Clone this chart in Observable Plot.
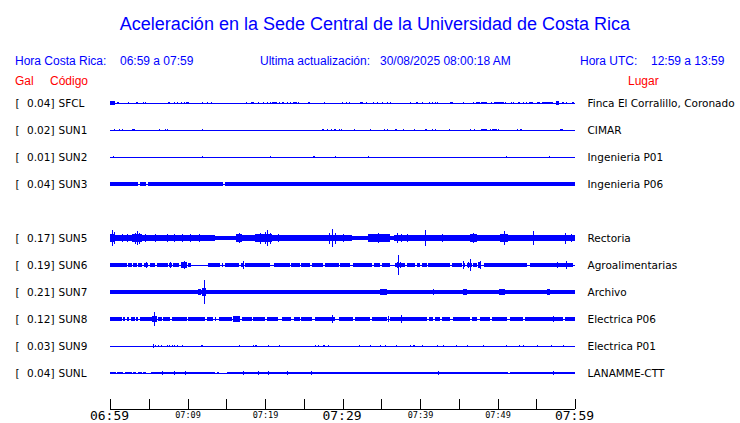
<!DOCTYPE html>
<html><head><meta charset="utf-8">
<script src="https://cdn.jsdelivr.net/npm/d3@7"></script>
<script src="https://cdn.jsdelivr.net/npm/@observablehq/plot@0.6"></script>
<style>
body{margin:0;background:#fff;}
#wrap{position:relative;width:740px;height:423px;overflow:hidden;background:#fff;}
#head{position:absolute;left:0;top:0;width:740px;height:88px;font-family:"Liberation Sans",Arial,sans-serif;}
#head span{position:absolute;white-space:pre;}
.t{font-size:18px;line-height:18px;color:#0000ff;}
.h{font-size:12px;line-height:12px;color:#0000ff;}
.r{font-size:12px;line-height:12px;color:#ff0000;}
#chart{position:absolute;left:0;top:88px;}
</style></head><body>
<div id="wrap">
<div id="head">
<span class="t" style="left:5px;width:740px;text-align:center;top:15px;">Aceleración en la Sede Central de la Universidad de Costa Rica</span>
<span class="h" style="left:15px;top:55px;">Hora Costa Rica:</span>
<span class="h" style="left:120px;top:55px;">06:59 a 07:59</span>
<span class="h" style="left:260px;top:55px;">Ultima actualización:</span>
<span class="h" style="left:380px;top:55px;">30/08/2025 08:00:18 AM</span>
<span class="h" style="left:580px;top:55px;">Hora UTC:</span>
<span class="h" style="left:651px;top:55px;">12:59 a 13:59</span>
<span class="r" style="left:15px;top:75px;">Gal</span>
<span class="r" style="left:50px;top:75px;">Código</span>
<span class="r" style="left:628px;top:75px;">Lugar</span>
</div>
<div id="chart"></div>
</div>
<script>
// Row order (null = unused row, station SUN4 not shown)
const rows = ["SFCL","SUN1","SUN2","SUN3",null,"SUN5","SUN6","SUN7","SUN8","SUN9","SUNL"];
const peaks = [0.04,0.02,0.01,0.04,0.17,0.19,0.21,0.12,0.03,0.04];
const places = ["Finca El Corralillo, Coronado","CIMAR","Ingenieria P01","Ingenieria P06","Rectoria","Agroalimentarias","Archivo","Electrica P06","Electrica P01","LANAMME-CTT"];

// Time axis: minutes after 06:59
const tickMinutes = [0,5,10,15,20,25,30,35,40,45,50,55,60];
const bigTickLabels = [[0,"06:59"],[30,"07:29"],[60,"07:59"]];
const smallTickLabels = [[10,"07:09"],[20,"07:19"],[40,"07:39"],[50,"07:49"]];

// Envelope segments [start min, end min, half amplitude Gal] and spikes [min, amplitude Gal]
const bandsSFCL = [[0,0.65,0.03],[0.86,1.16,0.025],[3.4,3.65,0.025],[7.5,7.8,0.025],[9.8,10.2,0.025],[18.2,18.6,0.025],[20.2,20.4,0.02],[20.9,21.5,0.025],[22.2,22.5,0.025],[23.6,24.1,0.025],[32.3,32.6,0.025],[33.9,34.0,0.025],[39.5,39.8,0.025],[43.9,44.3,0.02],[47.2,47.7,0.025],[47.9,48.6,0.025],[49.5,50.8,0.025],[52.7,52.9,0.025],[54.0,54.6,0.025],[55.1,55.5,0.02],[55.7,57.2,0.025],[57.6,57.9,0.04],[58.3,58.6,0.02]];
const spikesSFCL = [[2.37,0.02],[4.3,0.015],[4.5,0.015],[8.2,0.02],[8.7,0.015],[9.2,0.015],[9.5,0.015],[11.9,0.02],[12.5,0.015],[13.0,0.02],[17.6,0.015],[19.1,0.015],[19.8,0.02],[20.6,0.02],[21.8,0.02],[22.8,0.015],[23.2,0.015],[24.3,0.02],[25.5,0.02],[25.7,0.015],[27.6,0.015],[29.9,0.02],[30.5,0.015],[30.9,0.015],[33.0,0.015],[34.4,0.015],[35.1,0.015],[35.8,0.015],[36.1,0.015],[38.7,0.015],[40.3,0.015],[41.1,0.015],[41.5,0.015],[41.9,0.02],[42.2,0.015],[45.6,0.015],[46.8,0.015],[49.2,0.015],[51.0,0.02],[51.7,0.015],[52.0,0.015],[53.3,0.015],[53.7,0.015],[58.9,0.015],[59.6,0.015],[59.8,0.02]];

const bandsSUN1 = [[2.8,3.2,0.025],[27.3,27.6,0.025],[28.9,29.2,0.025],[36.8,37.0,0.025],[40.6,40.9,0.02],[47.9,48.6,0.025],[49.3,49.9,0.02],[52.9,53.1,0.02],[58.1,58.4,0.025]];
const spikesSUN1 = [[0.56,0.015],[1.2,0.015],[1.6,0.015],[6.3,0.015],[7.1,0.015],[7.4,0.015],[11.9,0.02],[28.0,0.015],[28.5,0.02],[29.5,0.02],[29.8,0.02],[31.5,0.02],[33.5,0.015],[35.3,0.015],[35.8,0.015],[37.8,0.015],[39.2,0.015],[41.6,0.015],[41.9,0.015],[43.8,0.015],[46.5,0.015],[47.0,0.015],[49.0,0.02],[50.0,0.015],[52.5,0.015]];

const bandsSUN2 = [[26.2,26.5,0.012]];
const spikesSUN2 = [[0.43,0.012],[11.9,0.012],[20.6,0.012],[29.0,0.012],[33.3,0.012],[51.1,0.012],[56.7,0.012]];

const bandsSUN3 = [[0,3.65,0.033],[3.9,4.7,0.033],[4.95,14.6,0.033],[14.85,60,0.033]];
const spikesSUN3 = [[0.43,0.045],[1.08,0.045],[7.44,0.045],[8.6,0.045],[9.3,0.045],[12.6,0.045],[16.7,0.045],[19.0,0.045],[19.3,0.045],[20.5,0.045],[21.1,0.045],[28.0,0.045],[28.7,0.045],[29.0,0.045],[33.3,0.045],[34.3,0.045],[34.8,0.045],[37.8,0.045],[49.5,0.045],[51.1,0.045],[52.6,0.045],[52.9,0.045],[56.7,0.045],[57.2,0.045]];

const bandsSUN5 = [[0,0.7,0.08],[0.7,2.8,0.05],[2.8,4.1,0.08],[4.1,13.5,0.05],[13.5,16.3,0.045],[16.3,17.0,0.065],[17.0,18.7,0.05],[18.7,20.9,0.075],[20.9,23.4,0.05],[23.4,27.3,0.048],[27.3,31.2,0.06],[31.2,33.3,0.045],[33.3,36.1,0.065],[36.1,36.6,0.045],[36.6,40.0,0.06],[40.0,40.9,0.05],[40.9,42.2,0.048],[42.2,43.4,0.06],[43.4,46.5,0.048],[46.5,47.3,0.07],[47.3,50.3,0.048],[50.3,51.4,0.07],[51.4,54.4,0.05],[54.4,54.8,0.06],[54.8,58.3,0.048],[58.3,60,0.06]];
const spikesSUN5 = [[0.2,0.14],[0.5,0.11],[1.5,0.07],[2.2,0.07],[3.2,0.1],[3.5,0.13],[3.8,0.1],[4.5,0.07],[5.8,0.07],[7.35,0.08],[8.2,0.07],[9.3,0.07],[10.3,0.07],[11.5,0.07],[12.3,0.06],[16.6,0.085],[19.4,0.1],[20.0,0.11],[20.3,0.14],[20.6,0.1],[21.7,0.07],[25.2,0.06],[28.2,0.1],[28.6,0.17],[29.0,0.1],[30.0,0.08],[34.0,0.08],[34.6,0.09],[35.3,0.08],[37.0,0.09],[37.6,0.08],[38.3,0.08],[40.6,0.14],[42.8,0.07],[46.9,0.09],[50.8,0.13],[54.6,0.13],[58.7,0.1],[59.5,0.08]];

const bandsSUN6 = [[0,2.15,0.03],[2.37,2.88,0.03],[3.0,3.44,0.03],[3.57,4.09,0.03],[4.43,4.95,0.045],[5.16,5.8,0.03],[6.0,7.5,0.03],[7.66,8.04,0.045],[8.17,8.9,0.03],[9.16,9.9,0.05],[10.1,10.4,0.03],[12.7,14.2,0.03],[14.4,14.6,0.03],[14.8,16.6,0.03],[16.9,17.3,0.045],[17.4,20.6,0.03],[21.1,23.2,0.03],[23.4,24.5,0.03],[24.6,25.8,0.03],[26.0,27.5,0.03],[27.7,29.5,0.03],[29.7,31.0,0.03],[31.4,33.8,0.03],[34.0,34.8,0.03],[35.1,36.1,0.03],[36.8,37.6,0.04],[37.6,38.1,0.03],[38.3,39.4,0.03],[39.6,40.0,0.035],[40.2,40.9,0.04],[41.0,43.9,0.03],[44.1,45.4,0.03],[45.5,45.8,0.04],[46.0,46.7,0.04],[46.9,47.3,0.03],[47.5,47.9,0.06],[48.2,48.6,0.03],[48.6,53.8,0.033],[54.2,59.8,0.033]];
const spikesSUN6 = [[4.7,0.055],[6.2,0.04],[7.3,0.045],[7.8,0.06],[9.5,0.08],[12.9,0.04],[13.5,0.04],[14.1,0.04],[17.1,0.07],[23.8,0.04],[26.2,0.04],[37.0,0.06],[37.2,0.19],[37.4,0.06],[45.6,0.07],[46.2,0.06],[46.5,0.115],[47.7,0.075],[57.7,0.05],[58.8,0.08]];

const bandsSUN7 = [[0,60,0.028],[8.9,9.5,0.04],[11.4,11.8,0.05],[11.9,12.4,0.08],[12.7,13.5,0.045],[15.7,15.9,0.045],[25.2,26.0,0.045],[26.9,27.1,0.04],[29.7,30.5,0.035],[33.8,34.2,0.04],[34.8,35.7,0.05],[39.1,39.6,0.045],[44.1,44.5,0.04],[45.6,46.0,0.05],[47.7,48.2,0.04],[50.2,51.0,0.05],[56.4,56.8,0.05],[58.9,59.8,0.035]];
const spikesSUN7 = [[1.4,0.04],[4.1,0.045],[4.9,0.04],[7.0,0.04],[8.0,0.045],[10.1,0.045],[12.17,0.21],[16.6,0.04],[18.7,0.04],[20.0,0.04],[20.3,0.04],[20.9,0.04],[22.0,0.04],[23.7,0.04],[27.7,0.04],[29.2,0.04],[32.0,0.04],[32.9,0.04],[35.3,0.055],[36.6,0.04],[37.9,0.04],[41.7,0.05],[42.8,0.04],[49.3,0.04],[51.8,0.04],[53.1,0.04],[54.4,0.04],[55.9,0.04],[58.1,0.04]];

const bandsSUN8 = [[0,1.5,0.03],[1.7,1.9,0.03],[2.15,2.45,0.03],[2.7,3.2,0.03],[3.4,3.65,0.03],[3.9,5.4,0.03],[5.4,6.0,0.05],[6.2,6.75,0.03],[6.9,7.7,0.045],[7.96,9.9,0.035],[10.1,12.3,0.03],[12.5,13.3,0.03],[14.0,15.7,0.03],[15.9,16.8,0.05],[17.0,18.3,0.04],[18.5,20.0,0.04],[20.2,21.7,0.03],[22.2,23.4,0.03],[23.7,24.5,0.03],[24.7,26.0,0.045],[26.5,29.0,0.045],[29.5,31.4,0.04],[31.6,33.6,0.03],[33.8,35.7,0.03],[36.1,40.9,0.03],[41.1,41.7,0.03],[41.9,42.6,0.045],[42.8,43.9,0.03],[44.3,46.5,0.03],[46.7,47.3,0.03],[47.7,49.0,0.03],[49.3,51.2,0.03],[51.6,53.3,0.04],[53.6,55.5,0.03],[55.5,58.5,0.045],[58.7,60,0.03]];
const spikesSUN8 = [[5.72,0.12],[13.5,0.04],[28.7,0.065],[35.9,0.05],[37.6,0.065],[57.2,0.055]];

const bandsSUN9 = [[27.5,27.8,0.022],[39.1,39.4,0.018]];
const spikesSUN9 = [[5.6,0.028],[5.8,0.02],[6.15,0.018],[6.6,0.018],[7.3,0.018],[7.6,0.018],[7.96,0.018],[8.26,0.018],[8.6,0.018],[9.33,0.018],[11.7,0.02],[11.9,0.018],[16.6,0.018],[18.5,0.018],[18.7,0.018],[18.9,0.018],[20.4,0.018],[21.8,0.018],[26.4,0.018],[26.9,0.018],[28.1,0.018],[32.1,0.025],[33.6,0.018],[34.85,0.025],[35.5,0.018],[36.9,0.022],[38.7,0.018],[40.3,0.018],[42.2,0.018],[43.0,0.018],[44.7,0.018],[46.0,0.018],[48.1,0.018],[51.15,0.022],[52.8,0.018],[53.3,0.018],[55.1,0.018],[56.9,0.018],[58.4,0.018]];

const bandsSUNL = [[0,0.73,0.022],[0.86,1.7,0.022],[1.9,2.8,0.022],[3.0,3.4,0.022],[3.65,4.1,0.022],[4.3,4.6,0.022],[5.3,13.5,0.022],[13.8,14.0,0.022],[15.05,51.3,0.025],[51.6,60,0.025]];
const spikesSUNL = [[6.7,0.035],[8.3,0.035],[9.7,0.03],[17.2,0.03],[19.1,0.03],[20.4,0.03],[22.8,0.03],[25.9,0.04],[42.3,0.045],[57.2,0.03]];

const bandsBy = {SFCL:bandsSFCL,SUN1:bandsSUN1,SUN2:bandsSUN2,SUN3:bandsSUN3,SUN5:bandsSUN5,SUN6:bandsSUN6,SUN7:bandsSUN7,SUN8:bandsSUN8,SUN9:bandsSUN9,SUNL:bandsSUNL};
const spikesBy = {SFCL:spikesSFCL,SUN1:spikesSUN1,SUN2:spikesSUN2,SUN3:spikesSUN3,SUN5:spikesSUN5,SUN6:spikesSUN6,SUN7:spikesSUN7,SUN8:spikesSUN8,SUN9:spikesSUN9,SUNL:spikesSUNL};

// Layout: traces share one amplitude scale (55 px per Gal), offset 27 px apart
const PX_PER_GAL = 55, H = 335, FIRST_PX = 15, ROW_PX = 27;
const Y_MAX = FIRST_PX / PX_PER_GAL, Y_MIN = Y_MAX - H / PX_PER_GAL;
const pxToY = px => Y_MAX - px / PX_PER_GAL;
const SPACING = ROW_PX / PX_PER_GAL;

const stations = [];
rows.forEach((code, i) => { if (code) stations.push({code, off: -i * SPACING}); });
stations.forEach((s, k) => { s.peak = peaks[k]; s.place = places[k]; });

const bandRows = stations.flatMap(s => bandsBy[s.code].map(([a,b,amp]) => ({a, b, lo: s.off - amp, hi: s.off + amp})));
const spikeRows = stations.flatMap(s => spikesBy[s.code].map(([t,amp]) => ({t, lo: s.off - amp, hi: s.off + amp})));

const AXIS_Y = pxToY(320.7), TICK_TOP = pxToY(311.3), LABEL_Y = pxToY(327.3);
const BLUE = "#0000ff";

const chart = Plot.plot({
  width: 740, height: H,
  marginLeft: 110, marginRight: 165, marginTop: 0, marginBottom: 0,
  x: {domain: [0, 60], axis: null},
  y: {domain: [Y_MIN, Y_MAX], axis: null},
  style: {background: "#fff", overflow: "visible"},
  marks: [
    Plot.ruleY(stations, {y: "off", x1: 0, x2: 60, stroke: BLUE, strokeWidth: 1, shapeRendering: "crispEdges"}),
    Plot.rect(bandRows, {x1: "a", x2: "b", y1: "lo", y2: "hi", fill: BLUE, shapeRendering: "crispEdges"}),
    Plot.ruleX(spikeRows, {x: "t", y1: "lo", y2: "hi", stroke: BLUE, strokeWidth: 1, shapeRendering: "crispEdges"}),
    Plot.text(stations, {y: "off", text: () => "[", frameAnchor: "left", dx: -95, textAnchor: "start", fontFamily: "DejaVu Sans", fontSize: 10.5, fill: "#000"}),
    Plot.text(stations, {y: "off", text: d => d.peak.toFixed(2) + "]", frameAnchor: "left", dx: -56, textAnchor: "end", fontFamily: "DejaVu Sans", fontSize: 10.5, fill: "#000"}),
    Plot.text(stations, {y: "off", text: "code", frameAnchor: "left", dx: -52, textAnchor: "start", fontFamily: "DejaVu Sans", fontSize: 10.5, fill: "#000"}),
    Plot.text(stations, {y: "off", text: "place", frameAnchor: "right", dx: 12, textAnchor: "start", fontFamily: "DejaVu Sans", fontSize: 10.5, fill: "#000"}),
    Plot.ruleY([AXIS_Y], {x1: 0, x2: 60, stroke: "#000", shapeRendering: "crispEdges"}),
    Plot.ruleX(tickMinutes, {x: d => d, y1: AXIS_Y, y2: TICK_TOP, stroke: "#000", shapeRendering: "crispEdges"}),
    Plot.text(bigTickLabels, {x: d => d[0], y: LABEL_Y, dx: -1, text: d => d[1], fontFamily: "DejaVu Sans Mono", fontSize: 13, fontWeight: 300, fill: "#000"}),
    Plot.text(smallTickLabels, {x: d => d[0], y: LABEL_Y, dy: -1, text: d => d[1], fontFamily: "DejaVu Sans Mono", fontSize: 8.5, fill: "#000"})
  ]
});
document.getElementById("chart").appendChild(chart);
</script>
</body></html>
